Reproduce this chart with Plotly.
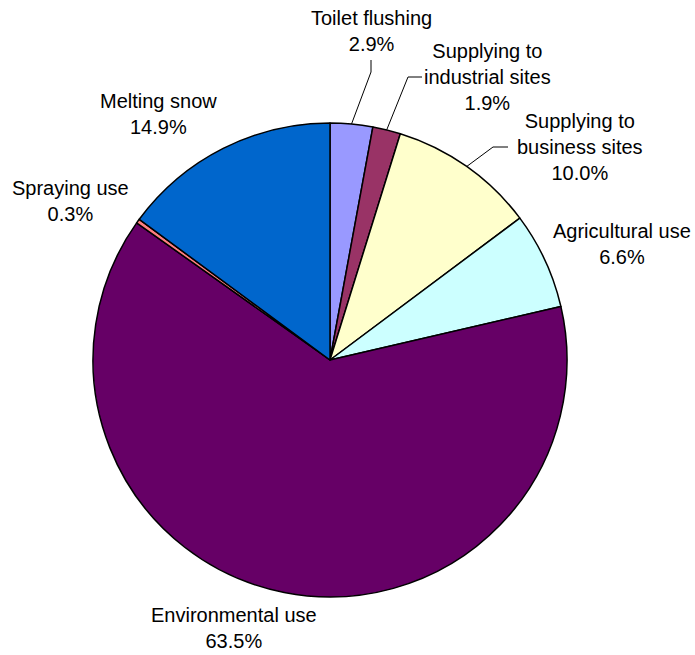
import math
import plotly.graph_objects as go

W, H = 695, 655

categories = ["Toilet flushing", "Supplying to<br>industrial sites", "Supplying to<br>business sites",
              "Agricultural use", "Environmental use", "Spraying use", "Melting snow"]
values = [2.9, 1.9, 10.0, 6.6, 63.5, 0.3, 14.9]
colors = ["#9999FF", "#993366", "#FFFFCC", "#CCFFFF", "#660066", "#FF8080", "#0066CC"]

# pie geometry (pixels)
cx, cy, R = 330, 360, 237

fig = go.Figure(go.Pie(
    values=values,
    labels=categories,
    sort=False,
    direction="clockwise",
    rotation=0,
    marker=dict(colors=colors, line=dict(color="black", width=1.5)),
    textinfo="none",
    hoverinfo="label+percent",
    showlegend=False,
    domain=dict(x=[(cx - R) / W, (cx + R) / W], y=[1 - (cy + R) / H, 1 - (cy - R) / H]),
))

# label positions (pixel centers)
label_pos = [(371, 31), (487, 77), (580, 147), (622, 244), (234, 628), (70, 201), (158, 114)]

def px(x):
    return x / W

def py(y):
    return 1 - y / H

annotations = []
for cat, v, (lx, ly) in zip(categories, values, label_pos):
    annotations.append(dict(
        x=px(lx), y=py(ly), xref="paper", yref="paper",
        text=f"{cat}<br>{v:.1f}%", showarrow=False,
        xanchor="center", yanchor="middle",
        font=dict(family="Arial, Liberation Sans, sans-serif", size=20, color="black"),
    ))

# leader lines from slice mid-points
total = sum(values)
cum = 0
mids = []
for v in values:
    mids.append((cum + v / 2) / total * 2 * math.pi)
    cum += v

def edge(i):
    a = mids[i]
    return cx + R * math.sin(a), cy - R * math.cos(a)

shapes = []
# Toilet flushing
x0, y0 = edge(0)
shapes.append(dict(type="path", xref="paper", yref="paper",
                   path=f"M {px(x0)},{py(y0)} L {px(371)},{py(72)} L {px(371)},{py(60)}",
                   line=dict(color="black", width=1)))
# Industrial
x0, y0 = edge(1)
shapes.append(dict(type="path", xref="paper", yref="paper",
                   path=f"M {px(x0)},{py(y0)} L {px(408)},{py(77)} L {px(422)},{py(77)}",
                   line=dict(color="black", width=1)))
# Business
x0, y0 = edge(2)
shapes.append(dict(type="path", xref="paper", yref="paper",
                   path=f"M {px(x0)},{py(y0)} L {px(493)},{py(147)} L {px(508)},{py(147)}",
                   line=dict(color="black", width=1)))

fig.update_layout(
    width=W, height=H,
    margin=dict(l=0, r=0, t=0, b=0),
    paper_bgcolor="white", plot_bgcolor="white",
    annotations=annotations, shapes=shapes,
)

fig.write_html("out.html", config={"displayModeBar": False},
               post_script="document.body.style.margin='0';document.body.style.overflow='hidden';")
